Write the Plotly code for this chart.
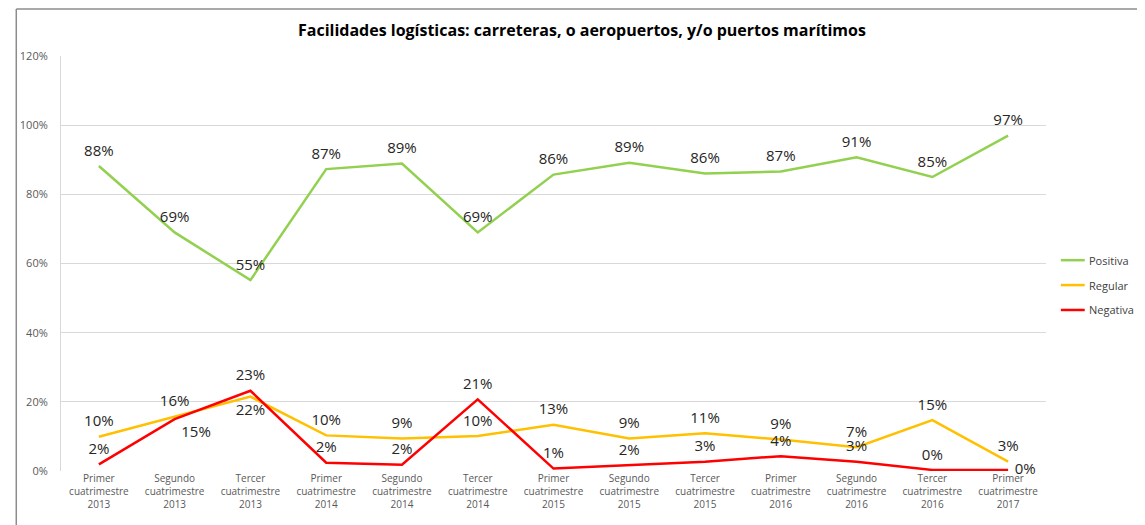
import plotly.graph_objects as go

periods = [
    "Primer<br>cuatrimestre<br>2013", "Segundo<br>cuatrimestre<br>2013", "Tercer<br>cuatrimestre<br>2013",
    "Primer<br>cuatrimestre<br>2014", "Segundo<br>cuatrimestre<br>2014", "Tercer<br>cuatrimestre<br>2014",
    "Primer<br>cuatrimestre<br>2015", "Segundo<br>cuatrimestre<br>2015", "Tercer<br>cuatrimestre<br>2015",
    "Primer<br>cuatrimestre<br>2016", "Segundo<br>cuatrimestre<br>2016", "Tercer<br>cuatrimestre<br>2016",
    "Primer<br>cuatrimestre<br>2017",
]
positiva = [0.882, 0.690, 0.552, 0.873, 0.889, 0.690, 0.857, 0.891, 0.860, 0.866, 0.907, 0.850, 0.970]
regular = [0.099, 0.157, 0.215, 0.103, 0.094, 0.101, 0.134, 0.094, 0.109, 0.091, 0.069, 0.147, 0.027]
negativa = [0.019, 0.150, 0.232, 0.024, 0.018, 0.207, 0.007, 0.016, 0.027, 0.043, 0.027, 0.003, 0.003]

pos_text = ["top center"] * 13
reg_text = ["top center"] * 13
reg_text[2] = "bottom center"
neg_text = ["top center"] * 13
neg_text[1] = "bottom right"
neg_text[12] = "middle right"

series = [
    ("Positiva", positiva, "#92D050", pos_text),
    ("Regular", regular, "#FFC000", reg_text),
    ("Negativa", negativa, "#FF0000", neg_text),
]

fig = go.Figure()
shapes = [
    # chart frame (top and left edges visible)
    dict(type="line", xref="paper", yref="paper", x0=-0.0454, x1=1.5, y0=1.113, y1=1.113,
         line=dict(color="#8C8C8C", width=1.5)),
    dict(type="line", xref="paper", yref="paper", x0=-0.0454, x1=-0.0454, y0=1.113, y1=-0.2,
         line=dict(color="#8C8C8C", width=1.5)),
]
annotations = []
legend_y = [0.508, 0.448, 0.388]
for (name, vals, color, tpos), ly in zip(series, legend_y):
    fig.add_trace(go.Scatter(
        x=list(range(len(periods))), y=vals, name=name,
        mode="lines+markers+text",
        line=dict(color=color, width=2.5),
        marker=dict(size=9, color="rgba(0,0,0,0)"),
        text=[f"{round(v * 100):.0f}%" for v in vals],
        textposition=tpos, cliponaxis=False,
        textfont=dict(family="Open Sans", size=15, color="#262626"),
    ))
    # hand-placed legend entry
    shapes.append(dict(type="line", xref="paper", yref="paper", x0=1.0151, x1=1.0393,
                       y0=ly, y1=ly, line=dict(color=color, width=2.5)))
    annotations.append(dict(text=name, xref="paper", yref="paper", x=1.0413, y=ly,
                            xanchor="left", yanchor="middle", showarrow=False,
                            font=dict(size=11, color="#404040")))

fig.update_layout(
    width=1137, height=525,
    margin=dict(l=46, r=99, t=48, b=62),
    paper_bgcolor="white", plot_bgcolor="white",
    font=dict(family="Open Sans", color="#595959"),
    title=dict(text="<b>Facilidades logísticas: carreteras, o aeropuertos, y/o puertos marítimos</b>",
               x=0.5048, xanchor="center", y=0.958, yanchor="middle",
               font=dict(family="Open Sans", size=16, color="#000000")),
    xaxis=dict(
        tickmode="array", tickvals=list(range(len(periods))), ticktext=periods,
        range=[-0.5, 12.5], showgrid=False, zeroline=False, showline=False,
        tickfont=dict(size=10, color="#595959"),
    ),
    yaxis=dict(
        range=[0, 1.2], dtick=0.2, tickformat=".0%",
        gridcolor="#D9D9D9", gridwidth=1, zeroline=False,
        showline=True, linecolor="#D9D9D9", linewidth=1,
        tickfont=dict(size=11, color="#595959"), ticklabelstandoff=10,
    ),
    showlegend=False,
    shapes=shapes,
    annotations=annotations,
)

fig.write_html("out.html")
